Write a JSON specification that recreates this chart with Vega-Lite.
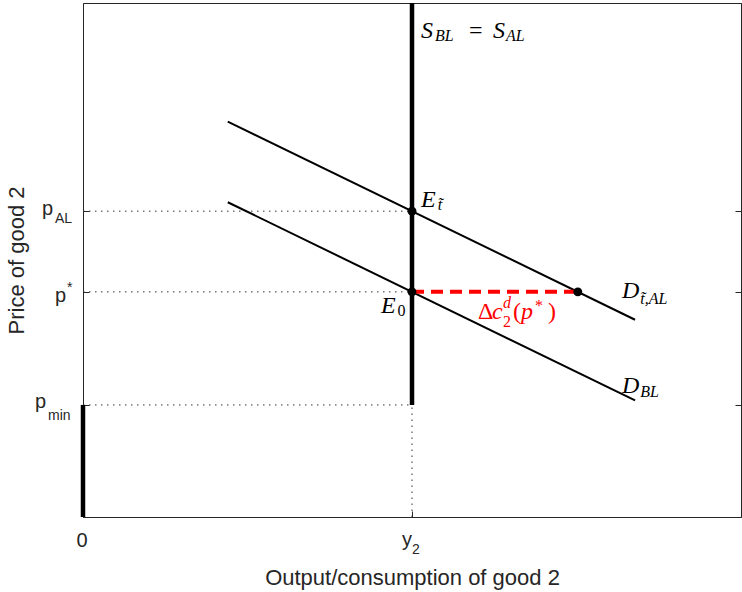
{
  "$schema": "https://vega.github.io/schema/vega-lite/v6.json",
  "width": 658,
  "height": 514,
  "autosize": {"type": "none"},
  "padding": {"left": 83, "top": 3, "right": 1, "bottom": 75},
  "background": "white",
  "config": {
    "view": {"stroke": "#262626", "strokeWidth": 1},
    "axis": {"grid": false}
  },
  "datasets": {
    "demand": [
      {"curve": "D_tAL", "q": 2.2, "p": 7.694},
      {"curve": "D_tAL", "q": 8.39, "p": 3.838},
      {"curve": "D_BL", "q": 2.2, "p": 6.124},
      {"curve": "D_BL", "q": 8.39, "p": 2.268}
    ],
    "guides": [
      {"q": 0, "q2": 5, "p": 5.95, "p2": 5.95},
      {"q": 0, "q2": 5, "p": 4.38, "p2": 4.38},
      {"q": 0, "q2": 5, "p": 2.18, "p2": 2.18},
      {"q": 5, "q2": 5, "p": 0, "p2": 2.18}
    ],
    "thick": [
      {"name": "S", "q": 5, "q2": 5, "p": 2.18, "p2": 10},
      {"name": "pmin", "q": 0, "q2": 0, "p": 0, "p2": 2.18}
    ],
    "delta": [
      {"q": 5, "q2": 7.52, "p": 4.38, "p2": 4.38}
    ],
    "points": [
      {"name": "E_t", "q": 5, "p": 5.95},
      {"name": "E_0", "q": 5, "p": 4.38},
      {"name": "D_point", "q": 7.52, "p": 4.38}
    ],
    "ticks": [
      {"p": 2.18}, {"p": 4.38}, {"p": 5.95}
    ],
    "labels": [
      {"fam": "mi", "t": "S", "q": 5.137, "p": 9.319, "sz": "math", "col": "ink"},
      {"fam": "mi", "t": "BL", "q": 5.35, "p": 9.261, "sz": "mathsub", "col": "ink"},
      {"fam": "mu", "t": "=", "q": 5.866, "p": 9.319, "sz": "math", "col": "ink"},
      {"fam": "mi", "t": "S", "q": 6.231, "p": 9.319, "sz": "math", "col": "ink"},
      {"fam": "mi", "t": "AL", "q": 6.429, "p": 9.261, "sz": "mathsub", "col": "ink"},
      {"fam": "mi", "t": "E", "q": 5.137, "p": 6.031, "sz": "math", "col": "ink"},
      {"fam": "mi", "t": "t̃", "q": 5.39, "p": 5.973, "sz": "mathsub", "col": "ink"},
      {"fam": "mi", "t": "E", "q": 4.529, "p": 3.969, "sz": "math", "col": "ink"},
      {"fam": "mu", "t": "0", "q": 4.78, "p": 3.911, "sz": "mathsub", "col": "ink"},
      {"fam": "mi", "t": "D", "q": 8.191, "p": 4.261, "sz": "math", "col": "ink"},
      {"fam": "mi", "t": "t̃,AL", "q": 8.47, "p": 4.144, "sz": "mathsub", "col": "ink"},
      {"fam": "mi", "t": "D", "q": 8.191, "p": 2.412, "sz": "math", "col": "ink"},
      {"fam": "mi", "t": "BL", "q": 8.47, "p": 2.335, "sz": "mathsub", "col": "ink"},
      {"fam": "mu", "t": "Δ", "q": 6.003, "p": 3.852, "sz": "math", "col": "delta"},
      {"fam": "mi", "t": "c", "q": 6.216, "p": 3.852, "sz": "math", "col": "delta"},
      {"fam": "mi", "t": "d", "q": 6.383, "p": 4.066, "sz": "mathsub", "col": "delta"},
      {"fam": "mu", "t": "2", "q": 6.383, "p": 3.696, "sz": "mathsub", "col": "delta"},
      {"fam": "mu", "t": "(", "q": 6.535, "p": 3.852, "sz": "math", "col": "delta"},
      {"fam": "mi", "t": "p", "q": 6.657, "p": 3.852, "sz": "math", "col": "delta"},
      {"fam": "mu", "t": "*", "q": 6.869, "p": 4.0, "sz": "mathsub", "col": "delta"},
      {"fam": "mu", "t": ")", "q": 7.067, "p": 3.852, "sz": "math", "col": "delta"},
      {"fam": "sans", "t": "p", "q": -0.625, "p": 5.875, "sz": "tick", "col": "axis"},
      {"fam": "sans", "t": "AL", "q": -0.4255, "p": 5.72, "sz": "ticksub", "col": "axis"},
      {"fam": "sans", "t": "p", "q": -0.427, "p": 4.183, "sz": "tick", "col": "axis"},
      {"fam": "sans", "t": "*", "q": -0.243, "p": 4.377, "sz": "ticksub", "col": "axis"},
      {"fam": "sans", "t": "p", "q": -0.73, "p": 2.121, "sz": "tick", "col": "axis"},
      {"fam": "sans", "t": "min", "q": -0.532, "p": 1.887, "sz": "ticksub", "col": "axis"},
      {"fam": "sans", "t": "0", "q": -0.1, "p": -0.584, "sz": "tick", "col": "axis"},
      {"fam": "sans", "t": "y", "q": 4.848, "p": -0.564, "sz": "tick", "col": "axis"},
      {"fam": "sans", "t": "2", "q": 5.0, "p": -0.72, "sz": "ticksub", "col": "axis"}
    ]
  },
  "layer": [
    {
      "layer": [
        {
          "data": {"name": "guides"},
          "mark": {"type": "rule", "color": "#333333", "strokeWidth": 1, "strokeDash": [1.5, 4.5]},
          "encoding": {
            "x": {
              "field": "q", "type": "quantitative",
              "scale": {"domain": [0, 10], "nice": false, "zero": false},
              "axis": {
                "values": [0, 5], "labels": false, "tickSize": -6, "tickColor": "#262626",
                "domainColor": "#262626", "domainWidth": 1, "tickWidth": 1,
                "title": "Output/consumption of good 2", "titleFont": "Liberation Sans",
                "titleFontSize": 22, "titleFontWeight": "normal", "titleColor": "#262626",
                "titlePadding": 50
              }
            },
            "x2": {"field": "q2"},
            "y": {
              "field": "p", "type": "quantitative",
              "scale": {"domain": [0, 10], "nice": false, "zero": false},
              "axis": {
                "orient": "left",
                "values": [2.18, 4.38, 5.95], "labels": false, "tickSize": -6, "tickColor": "#262626",
                "domainColor": "#262626", "domainWidth": 1, "tickWidth": 1,
                "title": "Price of good 2", "titleFont": "Liberation Sans",
                "titleFontSize": 22, "titleFontWeight": "normal", "titleColor": "#262626",
                "titlePadding": 54
              }
            },
            "y2": {"field": "p2"}
          }
        },
        {
          "data": {"name": "thick"},
          "mark": {"type": "rule", "color": "#000000", "strokeWidth": 4.5},
          "encoding": {
            "x": {"field": "q", "type": "quantitative"},
            "x2": {"field": "q2"},
            "y": {"field": "p", "type": "quantitative"},
            "y2": {"field": "p2"}
          }
        },
        {
          "data": {"name": "demand"},
          "mark": {"type": "line", "color": "#000000", "strokeWidth": 2},
          "encoding": {
            "x": {"field": "q", "type": "quantitative"},
            "y": {"field": "p", "type": "quantitative"},
            "detail": {"field": "curve"}
          }
        },
        {
          "data": {"name": "delta"},
          "mark": {"type": "rule", "color": "#ff0000", "strokeWidth": 4, "strokeDash": [12, 7]},
          "encoding": {
            "x": {"field": "q", "type": "quantitative"},
            "x2": {"field": "q2"},
            "y": {"field": "p", "type": "quantitative"},
            "y2": {"field": "p2"}
          }
        },
        {
          "data": {"name": "points"},
          "mark": {"type": "point", "filled": true, "color": "#000000", "opacity": 1, "size": 80},
          "encoding": {
            "x": {"field": "q", "type": "quantitative"},
            "y": {"field": "p", "type": "quantitative"}
          }
        },
        {
          "data": {"name": "labels"},
          "transform": [{"filter": "datum.fam === 'mi'"}],
          "mark": {"type": "text", "font": "Liberation Serif", "fontStyle": "italic", "align": "left", "baseline": "alphabetic"},
          "encoding": {
            "x": {"field": "q", "type": "quantitative"},
            "y": {"field": "p", "type": "quantitative"},
            "text": {"field": "t"},
            "size": {"field": "sz", "type": "nominal", "scale": {"type": "ordinal", "domain": ["math", "mathsub", "tick", "ticksub"], "range": [24, 16, 20, 14]}, "legend": null},
            "color": {"field": "col", "type": "nominal", "scale": {"domain": ["ink", "delta", "axis"], "range": ["#000000", "#ff0000", "#262626"]}, "legend": null}
          }
        },
        {
          "data": {"name": "labels"},
          "transform": [{"filter": "datum.fam === 'mu'"}],
          "mark": {"type": "text", "font": "Liberation Serif", "align": "left", "baseline": "alphabetic"},
          "encoding": {
            "x": {"field": "q", "type": "quantitative"},
            "y": {"field": "p", "type": "quantitative"},
            "text": {"field": "t"},
            "size": {"field": "sz", "type": "nominal", "scale": {"type": "ordinal", "domain": ["math", "mathsub", "tick", "ticksub"], "range": [24, 16, 20, 14]}, "legend": null},
            "color": {"field": "col", "type": "nominal", "legend": null}
          }
        },
        {
          "data": {"name": "labels"},
          "transform": [{"filter": "datum.fam === 'sans'"}],
          "mark": {"type": "text", "font": "Liberation Sans", "align": "left", "baseline": "alphabetic"},
          "encoding": {
            "x": {"field": "q", "type": "quantitative"},
            "y": {"field": "p", "type": "quantitative"},
            "text": {"field": "t"},
            "size": {"field": "sz", "type": "nominal", "scale": {"type": "ordinal", "domain": ["math", "mathsub", "tick", "ticksub"], "range": [24, 16, 20, 14]}, "legend": null},
            "color": {"field": "col", "type": "nominal", "legend": null}
          }
        }
      ]
    },
    {
      "data": {"name": "ticks"},
      "mark": {"type": "rule", "opacity": 0},
      "encoding": {
        "y": {
          "field": "p", "type": "quantitative",
          "scale": {"domain": [0, 10], "nice": false, "zero": false},
          "axis": {
            "orient": "right", "values": [2.18, 4.38, 5.95], "labels": false, "tickSize": -6,
            "tickColor": "#262626", "domainColor": "#262626", "domainWidth": 1, "tickWidth": 1,
            "title": null
          }
        }
      }
    }
  ],
  "resolve": {"axis": {"y": "independent"}}
}
